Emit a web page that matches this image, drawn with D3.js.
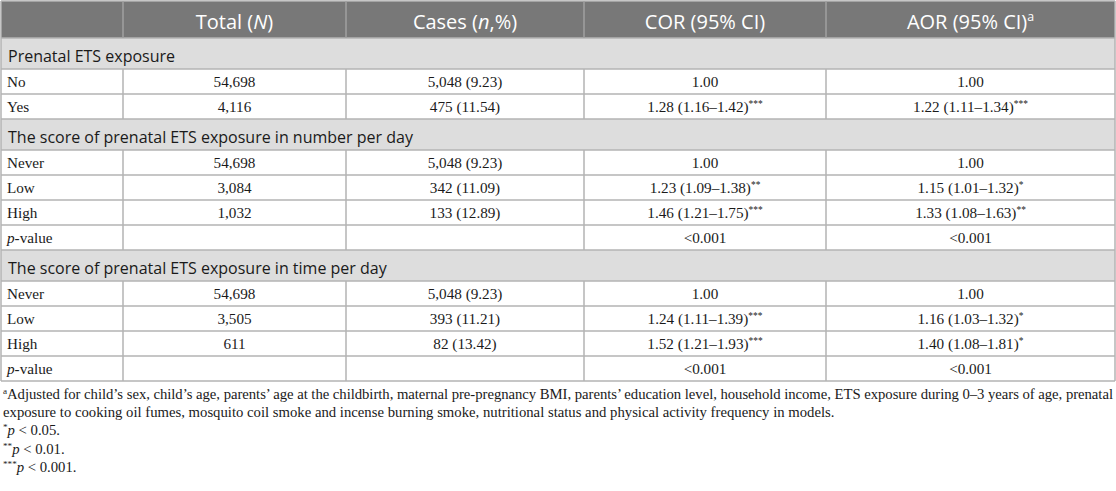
<!DOCTYPE html>
<html lang="en">
<head>
<meta charset="UTF-8">
<title>Prenatal ETS exposure table</title>
<style>
    body { margin: 0; background: #fff; }
    svg { display: block; }
    .sans { font-family: "Open Sans", "DejaVu Sans", sans-serif; }
    .serif { font-family: "Liberation Serif", "DejaVu Serif", serif; }
</style>
</head>
<body>
<div id="table"></div>
<script src="https://cdn.jsdelivr.net/npm/d3@7"></script>
<script>
// column headers (parts: [text, style])
const headers = [
    [],
    [["Total (", ""], ["N", "i"], [")", ""]],
    [["Cases (", ""], ["n", "i"], [",%)", ""]],
    [["COR (95% CI)", ""]],
    [["AOR (95% CI)", ""], ["a", "sup"]]
];

const sections = [
    "Prenatal ETS exposure",
    "The score of prenatal ETS exposure in number per day",
    "The score of prenatal ETS exposure in time per day"
];

const rowLabels = [
    ["No", "Yes"],
    ["Never", "Low", "High", "p-value"],
    ["Never", "Low", "High", "p-value"]
];

const totals = [
    ["54,698", "4,116"],
    ["54,698", "3,084", "1,032", ""],
    ["54,698", "3,505", "611", ""]
];

const cases = [
    ["5,048 (9.23)", "475 (11.54)"],
    ["5,048 (9.23)", "342 (11.09)", "133 (12.89)", ""],
    ["5,048 (9.23)", "393 (11.21)", "82 (13.42)", ""]
];

// [value, stars]
const cor = [
    [["1.00", ""], ["1.28 (1.16–1.42)", "***"]],
    [["1.00", ""], ["1.23 (1.09–1.38)", "**"], ["1.46 (1.21–1.75)", "***"], ["<0.001", ""]],
    [["1.00", ""], ["1.24 (1.11–1.39)", "***"], ["1.52 (1.21–1.93)", "***"], ["<0.001", ""]]
];

const aor = [
    [["1.00", ""], ["1.22 (1.11–1.34)", "***"]],
    [["1.00", ""], ["1.15 (1.01–1.32)", "*"], ["1.33 (1.08–1.63)", "**"], ["<0.001", ""]],
    [["1.00", ""], ["1.16 (1.03–1.32)", "*"], ["1.40 (1.08–1.81)", "*"], ["<0.001", ""]]
];

const footnotes = [
    [["a", "sup"], ["Adjusted for child’s sex, child’s age, parents’ age at the childbirth, maternal pre-pregnancy BMI, parents’ education level, household income, ETS exposure during 0–3 years of age, prenatal", ""]],
    [["exposure to cooking oil fumes, mosquito coil smoke and incense burning smoke, nutritional status and physical activity frequency in models.", ""]],
    [["*", "sup"], ["p", "i"], [" < 0.05.", ""]],
    [["**", "sup"], ["p", "i"], [" < 0.01.", ""]],
    [["***", "sup"], ["p", "i"], [" < 0.001.", ""]]
];

const W = 1116, H = 491;
const colEdges = [1, 123, 346, 584, 826, 1115];
const headerH = 37, sectionH = 31, rowH = 25;
const gridColor = "#b3b3b3";

const svg = d3.select("#table").append("svg")
    .attr("width", W)
    .attr("height", H);

// build rows list
const rows = [{ type: "header", h: headerH }];
sections.forEach((s, i) => {
    rows.push({ type: "section", h: sectionH, text: s });
    rowLabels[i].forEach((lab, j) => {
        rows.push({
            type: "data", h: rowH,
            cells: [lab, totals[i][j], cases[i][j], cor[i][j], aor[i][j]]
        });
    });
});
let acc = 1;
rows.forEach(r => { r.y = acc; acc += r.h; });
const tableBottom = acc;

function addParts(text, parts, size) {
    parts.forEach(p => {
        const t = text.append("tspan").text(p[0]);
        if (p[1] === "i") t.attr("font-style", "italic");
        if (p[1] === "sup") t.attr("font-size", size * 0.62).attr("baseline-shift", "super");
    });
}

function labelParts(lab) {
    if (lab === "p-value") return [["p", "i"], ["-value", ""]];
    return [[lab, ""]];
}

const g = svg.append("g");

rows.forEach(r => {
    if (r.type === "header") {
        g.append("rect")
            .attr("x", colEdges[0]).attr("y", r.y)
            .attr("width", colEdges[5] - colEdges[0]).attr("height", r.h)
            .attr("fill", "#787878");
        headers.forEach((parts, c) => {
            const cx = (colEdges[c] + colEdges[c + 1]) / 2;
            const t = g.append("text")
                .attr("class", "sans")
                .attr("x", cx).attr("y", r.y + r.h / 2 + 9)
                .attr("text-anchor", "middle")
                .attr("font-size", 20)
                .attr("fill", "#fff");
            addParts(t, parts, 20);
        });
    } else if (r.type === "section") {
        g.append("rect")
            .attr("x", colEdges[0]).attr("y", r.y)
            .attr("width", colEdges[5] - colEdges[0]).attr("height", r.h)
            .attr("fill", "#dddddd");
        g.append("text")
            .attr("class", "sans")
            .attr("x", colEdges[0] + 7).attr("y", r.y + r.h / 2 + 8)
            .attr("font-size", 16)
            .attr("fill", "#1a1a1a")
            .text(r.text);
    } else {
        r.cells.forEach((cell, c) => {
            const parts = c === 0 ? labelParts(cell)
                : (c >= 3 ? [[cell[0], ""], [cell[1], "sup"]] : [[cell, ""]]);
            const t = g.append("text")
                .attr("class", "serif")
                .attr("x", c === 0 ? colEdges[0] + 6 : (colEdges[c] + colEdges[c + 1]) / 2)
                .attr("y", r.y + r.h / 2 + 5)
                .attr("text-anchor", c === 0 ? "start" : "middle")
                .attr("font-size", 15.2)
                .attr("fill", "#1a1a1a");
            addParts(t, parts, 15.2);
        });
    }
});

// grid lines
const hLines = rows.map(r => r.y).concat([tableBottom]);
g.selectAll("line.h")
    .data(hLines)
    .enter().append("line")
    .attr("class", "h")
    .attr("x1", colEdges[0]).attr("x2", colEdges[5])
    .attr("y1", d => d).attr("y2", d => d)
    .attr("stroke", gridColor).attr("stroke-width", 1.5);

// vertical lines: outer edges full height, inner ones skip section rows
const segs = [];
rows.forEach(r => {
    colEdges.forEach((x, i) => {
        const outer = i === 0 || i === colEdges.length - 1;
        if (r.type !== "section" || outer) segs.push({ x, y1: r.y, y2: r.y + r.h, header: r.type === "header" && !outer });
    });
});
g.selectAll("line.v")
    .data(segs)
    .enter().append("line")
    .attr("class", "v")
    .attr("x1", d => d.x).attr("x2", d => d.x)
    .attr("y1", d => d.y1).attr("y2", d => d.y2)
    .attr("stroke", d => d.header ? "#a0a0a0" : gridColor)
    .attr("stroke-width", 1.5);

// footnotes: size chosen so the unjustified second line ends where it does in print
const probe = svg.append("text").attr("class", "serif").attr("font-size", 14)
    .text(footnotes[1][0][0]);
const fs = Math.min(15.5, 14 * 832 / probe.node().getComputedTextLength());
probe.remove();

footnotes.forEach((parts, i) => {
    const t = svg.append("text")
        .attr("class", "serif")
        .attr("x", 3)
        .attr("y", tableBottom + 18 + i * 18.2)
        .attr("font-size", fs)
        .attr("fill", "#1a1a1a");
    addParts(t, parts, fs);
    if (i === 0) t.attr("textLength", 1110).attr("lengthAdjust", "spacing");
});
</script>
</body>
</html>
